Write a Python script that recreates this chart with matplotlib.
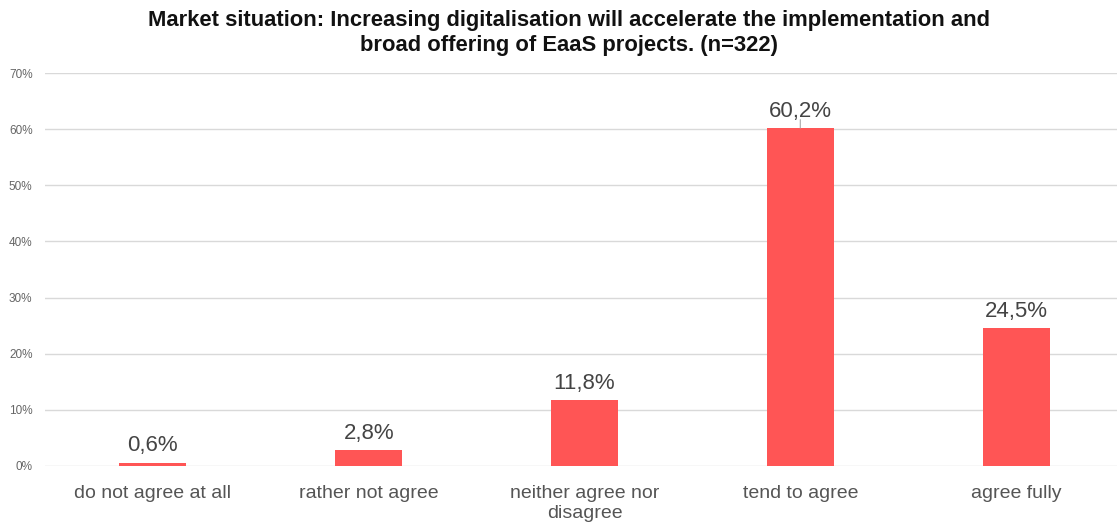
import matplotlib.pyplot as plt
from matplotlib.ticker import FuncFormatter

categories = ["do not agree at all", "rather not agree", "neither agree nor\ndisagree",
              "tend to agree", "agree fully"]
shares = [0.6, 2.8, 11.8, 60.2, 24.5]
value_labels = ["0,6%", "2,8%", "11,8%", "60,2%", "24,5%"]
y_ticks = [0, 10, 20, 30, 40, 50, 60, 70]

plt.rcParams['font.family'] = ['Liberation Sans', 'DejaVu Sans']

W, H = 1117, 522
fig = plt.figure(figsize=(W / 100, H / 100), dpi=100)
left, right, bottom, top = 45, 1124, 466, 73
ax = fig.add_axes([left / W, 1 - bottom / H, (right - left) / W, (bottom - top) / H])

x = list(range(len(categories)))
ax.bar(x, shares, width=0.31, color="#FF5555", zorder=3)

ax.set_xlim(-0.5, len(categories) - 0.5)
ax.set_ylim(0, 70)
ax.set_yticks(y_ticks)
ax.yaxis.set_major_formatter(FuncFormatter(lambda v, _: f"{int(v)}%"))
ax.set_xticks(x)
ax.set_xticklabels(categories, fontsize=14, color="#555555", linespacing=1.2)
ax.tick_params(axis="y", length=0, labelsize=8.5, labelcolor="#666666", pad=9)
ax.tick_params(axis="x", length=0, pad=14)
ax.grid(axis="y", color="#d9d9d9", linewidth=1, zorder=0)
for s in ax.spines.values():
    s.set_visible(False)

for xi, v, lab in zip(x, shares, value_labels):
    ax.annotate(lab, (xi, v), xytext=(0, 4.5), textcoords="offset points",
                ha="center", va="bottom", fontsize=16, color="#444444")
    if v > 50:
        ax.annotate("", (xi, v), xytext=(0, 6), textcoords="offset points",
                    arrowprops=dict(arrowstyle="-", color="#aaaaaa", lw=0.8,
                                    shrinkA=0, shrinkB=0))

fig.text(569 / W, 1 - 33 / H,
         "Market situation: Increasing digitalisation will accelerate the implementation and\n"
         "broad offering of EaaS projects. (n=322)",
         ha="center", va="center", fontsize=15.8, fontweight="bold", color="#111111",
         linespacing=1.2)

fig.savefig("out.png", dpi=100)
